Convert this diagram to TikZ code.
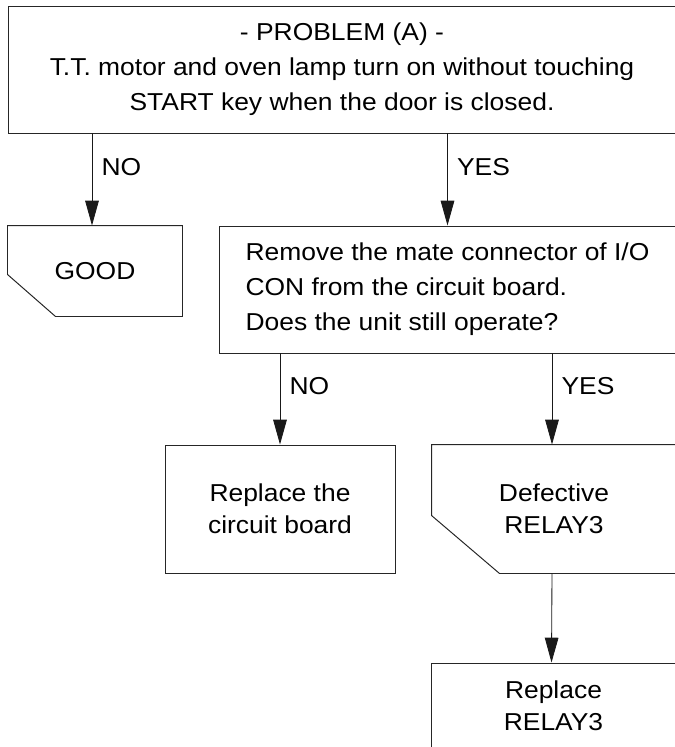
\documentclass[tikz,border=0pt]{standalone}
\usepackage{fontspec}
\setmainfont[FakeStretch=1.08]{Liberation Sans}
\usetikzlibrary{arrows.meta}
\tikzset{
  flow/.style={-{Triangle[length=6.2mm,width=3.4mm]}, line width=0.6pt, draw=black!90},
  boxline/.style={draw=black!85, line width=0.7pt},
  box/.style={
    boxline,
    align=center,
    inner sep=0pt,
    font=\fontsize{17.4pt}{24.8pt}\selectfont
  },
  smallbox/.style={box, font=\fontsize{17.4pt}{22.6pt}\selectfont},
  cutbox/.style={smallbox, draw=none},
  lbl/.style={anchor=west, inner sep=0pt, xshift=2.3mm, font=\fontsize{17.4pt}{20pt}\selectfont}
}
\begin{document}
\begin{tikzpicture}[x=0.25mm,y=-0.25mm]
  \useasboundingbox (0,0) rectangle (674,747);

  \node[box,minimum width=167mm,minimum height=31.75mm] (problem) at (342,69.5)
    {- PROBLEM (A) -\\T.T. motor and oven lamp turn on without touching\\START key when the door is closed.};
  \node[cutbox,minimum width=43.5mm,minimum height=22.5mm] (good) at (95,271) {GOOD};
  \node[box,align=left,minimum width=114.25mm,minimum height=31.75mm] (remove) at (447.5,289.5)
    {Remove the mate connector of I/O\\CON from the circuit board.\\Does the unit still operate?};
  \node[smallbox,minimum width=57.5mm,minimum height=32mm] (board) at (280,509) {Replace the\\circuit board};
  \node[cutbox,minimum width=61mm,minimum height=32mm] (defect) at (554,509) {Defective\\RELAY3};
  \node[smallbox,minimum width=61.25mm,minimum height=21.5mm] (relay) at (553.5,706) {Replace\\RELAY3};

  \draw[boxline] (good.north west) -- (good.north east) -- (good.south east)
    -- ([xshift=12mm]good.south west) -- ([yshift=10.5mm]good.south west) -- cycle;
  \draw[boxline] (defect.north west) -- (defect.north east) -- (defect.south east)
    -- ([xshift=17mm]defect.south west) -- ([yshift=14.5mm]defect.south west) -- cycle;

  \draw[flow] ([xshift=-0.75mm]good.north |- problem.south) -- node[lbl,pos=0.37] {NO} ([xshift=-0.75mm]good.north);
  \draw[flow] (remove.north |- problem.south) -- node[lbl,pos=0.37] {YES} (remove.north);
  \draw[flow] (board.north |- remove.south) -- node[lbl,pos=0.36] {NO} (board.north);
  \draw[flow] ([xshift=-0.5mm]defect.north |- remove.south) -- node[lbl,pos=0.36] {YES} ([xshift=-0.5mm]defect.north);
  \draw[flow] ([xshift=-0.5mm]defect.south) -- ([xshift=-0.5mm]relay.north);
\end{tikzpicture}
\end{document}
